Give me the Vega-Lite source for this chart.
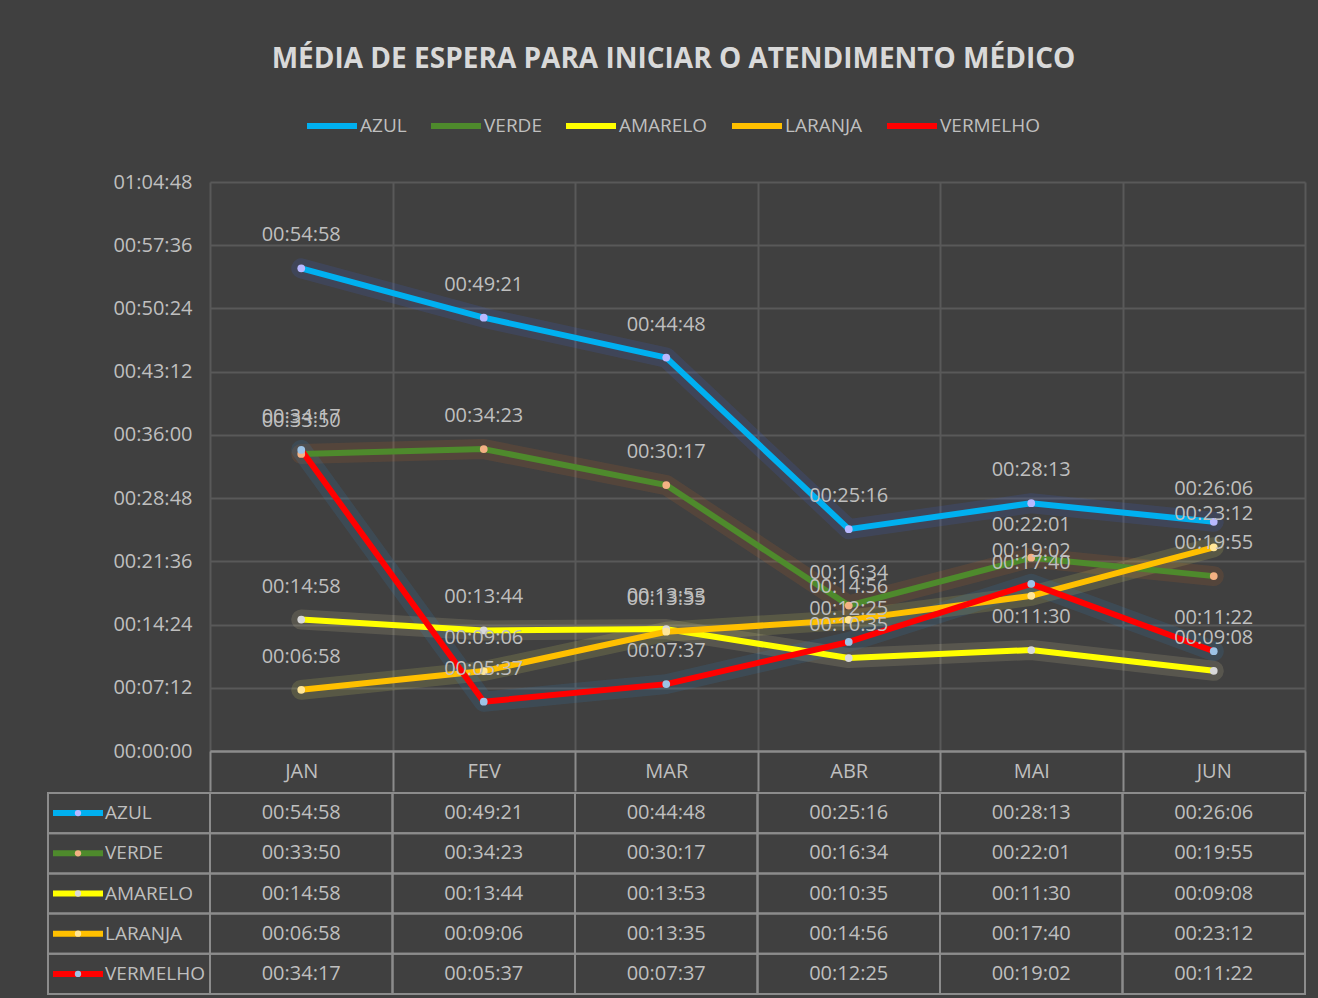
{
  "$schema": "https://vega.github.io/schema/vega-lite/v6.json",
  "background": "#404040",
  "padding": {"left": 41, "top": 46, "right": 12, "bottom": 4},
  "title": {"text": "MÉDIA DE ESPERA PARA INICIAR O ATENDIMENTO MÉDICO", "fontSize": 28, "fontWeight": "bold", "color": "#d9d9d9", "font": "Open Sans", "anchor": "middle", "offset": 24},
  "config": {"view": {"stroke": null}, "font": "Open Sans"},
  "datasets": {
    "d": [
      {"m": "JAN", "s": "AZUL", "v": 3298}, {"m": "FEV", "s": "AZUL", "v": 2961}, {"m": "MAR", "s": "AZUL", "v": 2688}, {"m": "ABR", "s": "AZUL", "v": 1516}, {"m": "MAI", "s": "AZUL", "v": 1693}, {"m": "JUN", "s": "AZUL", "v": 1566},
      {"m": "JAN", "s": "VERDE", "v": 2030}, {"m": "FEV", "s": "VERDE", "v": 2063}, {"m": "MAR", "s": "VERDE", "v": 1817}, {"m": "ABR", "s": "VERDE", "v": 994}, {"m": "MAI", "s": "VERDE", "v": 1321}, {"m": "JUN", "s": "VERDE", "v": 1195},
      {"m": "JAN", "s": "AMARELO", "v": 898}, {"m": "FEV", "s": "AMARELO", "v": 824}, {"m": "MAR", "s": "AMARELO", "v": 833}, {"m": "ABR", "s": "AMARELO", "v": 635}, {"m": "MAI", "s": "AMARELO", "v": 690}, {"m": "JUN", "s": "AMARELO", "v": 548},
      {"m": "JAN", "s": "LARANJA", "v": 418}, {"m": "FEV", "s": "LARANJA", "v": 546}, {"m": "MAR", "s": "LARANJA", "v": 815}, {"m": "ABR", "s": "LARANJA", "v": 896}, {"m": "MAI", "s": "LARANJA", "v": 1060}, {"m": "JUN", "s": "LARANJA", "v": 1392},
      {"m": "JAN", "s": "VERMELHO", "v": 2057}, {"m": "FEV", "s": "VERMELHO", "v": 337}, {"m": "MAR", "s": "VERMELHO", "v": 457}, {"m": "ABR", "s": "VERMELHO", "v": 745}, {"m": "MAI", "s": "VERMELHO", "v": 1142}, {"m": "JUN", "s": "VERMELHO", "v": 682}
    ]
  },
  "bounds": "full",
  "spacing": 0,
  "resolve": {"scale": {"x": "independent", "y": "independent", "color": "independent"}, "legend": {"color": "independent"}},
  "vconcat": [
    {
      "bounds": "flush",
      "spacing": 0,
      "resolve": {"scale": {"x": "independent", "y": "independent", "color": "independent"}, "legend": {"color": "independent"}},
      "hconcat": [
        {"width": 162, "height": 569, "data": {"values": []}, "mark": {"type": "text"}, "encoding": {}},
        {
          "width": 1095,
          "height": 569,
          "data": {"name": "d"},
          "resolve": {"scale": {"color": "independent"}, "legend": {"color": "independent"}},
          "encoding": {
            "x": {"field": "m", "type": "nominal", "sort": ["JAN", "FEV", "MAR", "ABR", "MAI", "JUN"], "scale": {"paddingInner": 0, "paddingOuter": 0},
              "axis": {"title": null, "labelAngle": 0, "tickBand": "extent", "grid": true, "gridColor": "#595959", "gridWidth": 2, "tickSize": 40, "tickColor": "#8c8c8c", "tickWidth": 2, "domainColor": "#8c8c8c", "domainWidth": 2, "labelPadding": -20, "labelBaseline": "middle", "labelFontSize": 20, "labelColor": "#bfbfbf"}},
            "y": {"field": "v", "type": "quantitative", "scale": {"domain": [0, 3888]},
              "axis": {"values": [0, 432, 864, 1296, 1728, 2160, 2592, 3024, 3456, 3888], "labelExpr": "utcFormat(datum.value*1000,'%H:%M:%S')", "title": null, "domain": false, "ticks": false, "labelPadding": 18, "labelFontSize": 20, "labelColor": "#bfbfbf", "gridColor": {"condition": {"test": "datum.value === 0", "value": "#8c8c8c"}, "value": "#595959"}, "gridWidth": 2}}
          },
          "layer": [
            {
              "mark": {"type": "line", "strokeWidth": 20, "strokeOpacity": 0.13, "strokeJoin": "round", "strokeCap": "round"},
              "encoding": {"color": {"field": "s", "type": "nominal", "scale": {"domain": ["AZUL", "VERDE", "AMARELO", "LARANJA", "VERMELHO"], "range": ["#3a6cff", "#e07020", "#fff2b0", "#ffff70", "#2f8fdf"]}, "legend": null}}
            },
            {
              "mark": {"type": "line", "strokeWidth": 6, "strokeJoin": "round"},
              "encoding": {"color": {"field": "s", "type": "nominal", "scale": {"domain": ["AZUL", "VERDE", "AMARELO", "LARANJA", "VERMELHO"], "range": ["#00b0f0", "#4e8a2c", "#ffff00", "#ffc000", "#ff0000"]},
                "legend": {"orient": "none", "legendX": 94, "legendY": -84, "direction": "horizontal", "title": null, "symbolType": "stroke", "symbolStrokeWidth": 6, "symbolSize": 2500, "labelFontSize": 19, "labelColor": "#bfbfbf", "columnPadding": 12, "labelOffset": 0}}}
            },
            {
              "mark": {"type": "point", "filled": true, "size": 60, "opacity": 1},
              "encoding": {"color": {"field": "s", "type": "nominal", "scale": {"domain": ["AZUL", "VERDE", "AMARELO", "LARANJA", "VERMELHO"], "range": ["#b8b8ff", "#f4b183", "#d9d9d9", "#ffe699", "#9dc3e6"]}, "legend": null}}
            },
            {
              "mark": {"type": "text", "dy": -33, "fontSize": 20, "color": "#bfbfbf", "baseline": "middle", "text": {"expr": "utcFormat(datum.v*1000,'%H:%M:%S')"}}
            }
          ]
        }
      ]
    },
    {
      "bounds": "flush",
      "spacing": 0,
      "resolve": {"scale": {"x": "independent", "y": "independent", "color": "independent"}, "legend": {"color": "independent"}},
      "hconcat": [
        {
          "width": 162,
          "height": 201,
          "data": {"name": "d"},
          "transform": [{"filter": {"field": "m", "equal": "JAN"}}],
          "resolve": {"scale": {"color": "independent"}, "legend": {"color": "independent"}},
          "encoding": {"y": {"field": "s", "type": "nominal", "sort": ["AZUL", "VERDE", "AMARELO", "LARANJA", "VERMELHO"], "scale": {"paddingInner": 0, "paddingOuter": 0}, "axis": null}},
          "layer": [
            {"mark": {"type": "rect", "fillOpacity": 0, "stroke": "#8c8c8c", "strokeWidth": 2}, "encoding": {"x": {"value": 0}, "x2": {"value": "width"}}},
            {"mark": {"type": "point", "shape": "stroke", "size": 2500, "strokeWidth": 6, "filled": false, "opacity": 1, "xOffset": -51},
              "encoding": {"color": {"field": "s", "type": "nominal", "scale": {"domain": ["AZUL", "VERDE", "AMARELO", "LARANJA", "VERMELHO"], "range": ["#00b0f0", "#4e8a2c", "#ffff00", "#ffc000", "#ff0000"]}, "legend": null}}},
            {"mark": {"type": "point", "filled": true, "size": 40, "opacity": 1, "xOffset": -51},
              "encoding": {"color": {"field": "s", "type": "nominal", "scale": {"domain": ["AZUL", "VERDE", "AMARELO", "LARANJA", "VERMELHO"], "range": ["#b8b8ff", "#f4b183", "#d9d9d9", "#ffe699", "#9dc3e6"]}, "legend": null}}},
            {"mark": {"type": "text", "align": "left", "baseline": "middle", "dx": -24, "fontSize": 19, "color": "#bfbfbf"}, "encoding": {"text": {"field": "s"}}}
          ]
        },
        {
          "width": 1095,
          "height": 201,
          "data": {"name": "d"},
          "encoding": {
            "x": {"field": "m", "type": "nominal", "sort": ["JAN", "FEV", "MAR", "ABR", "MAI", "JUN"], "scale": {"paddingInner": 0, "paddingOuter": 0}, "axis": null},
            "y": {"field": "s", "type": "nominal", "sort": ["AZUL", "VERDE", "AMARELO", "LARANJA", "VERMELHO"], "scale": {"paddingInner": 0, "paddingOuter": 0}, "axis": null}
          },
          "layer": [
            {"mark": {"type": "rect", "fillOpacity": 0, "stroke": "#8c8c8c", "strokeWidth": 2}},
            {"mark": {"type": "text", "baseline": "middle", "fontSize": 20, "color": "#bfbfbf", "text": {"expr": "utcFormat(datum.v*1000,'%H:%M:%S')"}}}
          ]
        }
      ]
    }
  ]
}
